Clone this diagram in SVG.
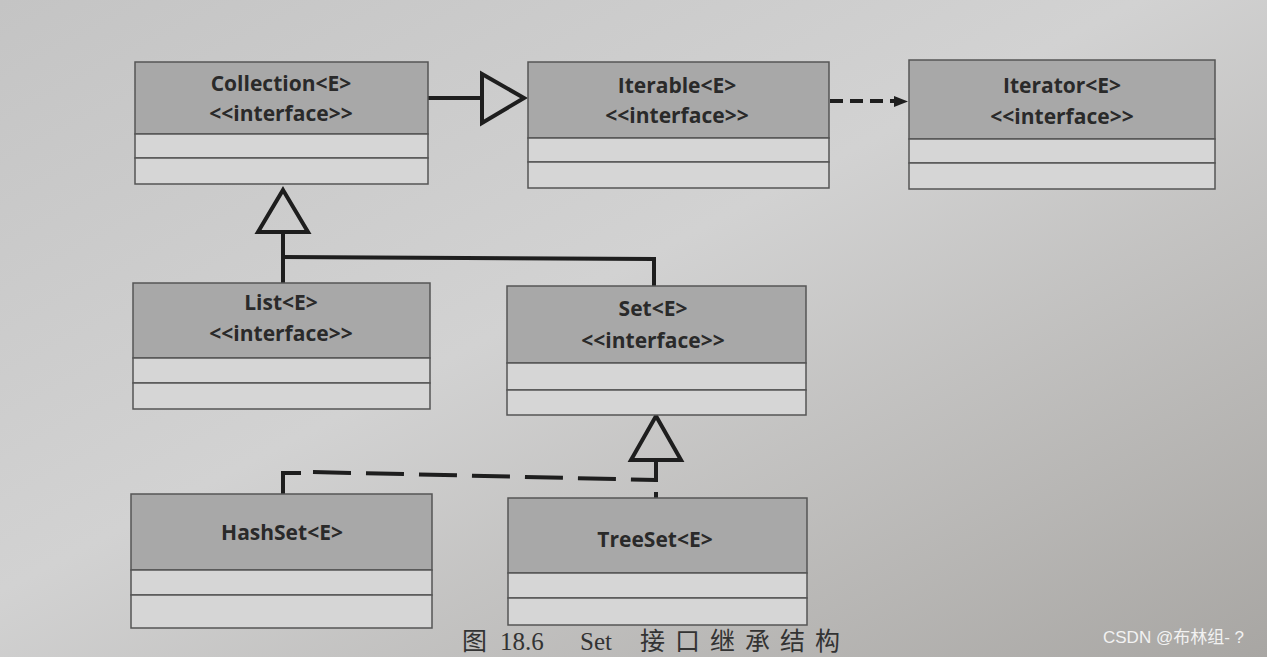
<svg xmlns="http://www.w3.org/2000/svg" width="1267" height="657" viewBox="0 0 1267 657">
<defs>
<linearGradient id="bg" x1="0" y1="0" x2="1" y2="1">
<stop offset="0" stop-color="#c4c4c4"/>
<stop offset="0.45" stop-color="#d2d2d2"/>
<stop offset="1" stop-color="#a8a6a3"/>
</linearGradient>
<style>
.hdr{fill:#a8a8a8;stroke:#555;stroke-width:1.5}
.row{fill:#d6d6d6;stroke:#555;stroke-width:1.5}
.t{font-family:"Open Sans","Liberation Sans",sans-serif;font-weight:bold;font-size:21px;fill:#2a2a2a;text-anchor:middle}
.ln{fill:none;stroke:#1e1e1e;stroke-width:4}
.tri{fill:none;stroke:#1e1e1e;stroke-width:4;stroke-linejoin:miter}
</style>
</defs>
<rect width="1267" height="657" fill="url(#bg)"/>
<g id="connectors">
<line class="ln" x1="428" y1="98" x2="482" y2="98"/>
<polygon class="tri" points="482,74 524,98 482,123"/>
<line class="ln" x1="830" y1="101" x2="896" y2="101" stroke-dasharray="13,7"/>
<path d="M894,96 L908,101.5 L894,107 Z" fill="#1e1e1e"/>
<polygon class="tri" points="283,190 308,232 258,232"/>
<polyline class="ln" points="283,232 283,283"/>
<polyline class="ln" points="283,257 654,259 654,288"/>
<polygon class="tri" points="656,416 681,460 631,460"/>
<line class="ln" x1="656" y1="460" x2="656" y2="500" stroke-dasharray="22,10"/>
<polyline class="ln" points="283,494 283,473 301,473"/>
<line class="ln" x1="313" y1="472" x2="656" y2="480" stroke-dasharray="38,15"/>
</g>
<g id="collection">
<rect class="hdr" x="135" y="62" width="293" height="72"/>
<rect class="row" x="135" y="134" width="293" height="24"/>
<rect class="row" x="135" y="158" width="293" height="26"/>
<text class="t" x="281" y="91">Collection&lt;E&gt;</text>
<text class="t" x="281" y="121">&lt;&lt;interface&gt;&gt;</text>
</g>
<g id="iterable">
<rect class="hdr" x="528" y="62" width="301" height="76"/>
<rect class="row" x="528" y="138" width="301" height="24"/>
<rect class="row" x="528" y="162" width="301" height="26"/>
<text class="t" x="677" y="93">Iterable&lt;E&gt;</text>
<text class="t" x="677" y="123">&lt;&lt;interface&gt;&gt;</text>
</g>
<g id="iterator">
<rect class="hdr" x="909" y="60" width="306" height="79"/>
<rect class="row" x="909" y="139" width="306" height="24"/>
<rect class="row" x="909" y="163" width="306" height="26"/>
<text class="t" x="1062" y="93">Iterator&lt;E&gt;</text>
<text class="t" x="1062" y="124">&lt;&lt;interface&gt;&gt;</text>
</g>
<g id="list">
<rect class="hdr" x="133" y="283" width="297" height="75"/>
<rect class="row" x="133" y="358" width="297" height="25"/>
<rect class="row" x="133" y="383" width="297" height="26"/>
<text class="t" x="281" y="310">List&lt;E&gt;</text>
<text class="t" x="281" y="341">&lt;&lt;interface&gt;&gt;</text>
</g>
<g id="set">
<rect class="hdr" x="507" y="286" width="299" height="77"/>
<rect class="row" x="507" y="363" width="299" height="27"/>
<rect class="row" x="507" y="390" width="299" height="25"/>
<text class="t" x="653" y="316">Set&lt;E&gt;</text>
<text class="t" x="653" y="348">&lt;&lt;interface&gt;&gt;</text>
</g>
<g id="hashset">
<rect class="hdr" x="131" y="494" width="301" height="76"/>
<rect class="row" x="131" y="570" width="301" height="25"/>
<rect class="row" x="131" y="595" width="301" height="33"/>
<text class="t" x="282" y="540">HashSet&lt;E&gt;</text>
</g>
<g id="treeset">
<rect class="hdr" x="508" y="498" width="299" height="75"/>
<rect class="row" x="508" y="573" width="299" height="25"/>
<rect class="row" x="508" y="598" width="299" height="27"/>
<text class="t" x="655" y="547">TreeSet&lt;E&gt;</text>
</g>
<text y="650" font-family="'Liberation Serif','Noto Sans CJK SC',serif" font-size="25" fill="#333"><tspan x="462">图</tspan><tspan x="500">18.6</tspan><tspan x="580">Set</tspan><tspan x="640" letter-spacing="10">接口继承结构</tspan></text>
<text x="1103" y="643" font-family="'Liberation Sans','Noto Sans CJK SC',sans-serif" font-size="17" fill="#f2f2f2">CSDN @布林组- ?</text>
</svg>
